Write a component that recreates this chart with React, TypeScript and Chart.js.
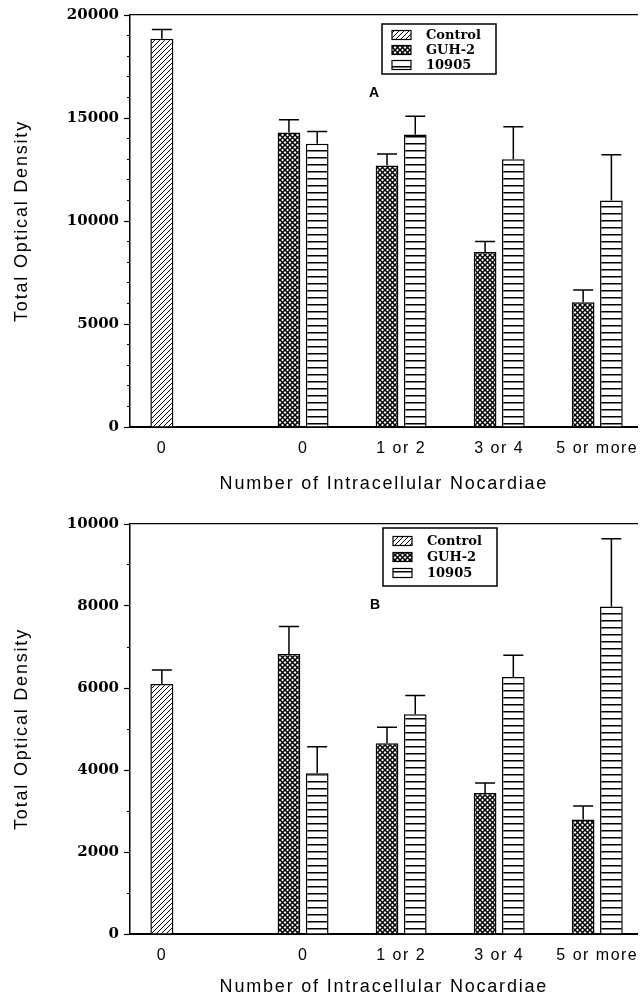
import React, { useEffect, useRef } from 'react';
import { Chart, registerables } from 'chart.js';

Chart.register(...registerables);

// ---------- data ----------
const categories = ['0', '0', '1 or 2', '3 or 4', '5 or more'];
const categoryPositions = [0, 1.44, 2.44, 3.44, 4.44];
const seriesNames = ['Control', 'GUH-2', '10905'];
const xTitle = 'Number of Intracellular Nocardiae';
const yTitle = 'Total Optical Density';

// Panel A
const aControl = [18850, null, null, null, null];
const aControlErr = [450, null, null, null, null];
const aGuh2 = [null, 14300, 12700, 8500, 6050];
const aGuh2Err = [null, 620, 550, 500, 600];
const a10905 = [null, 13750, 14200, 13000, 11000];
const a10905Err = [null, 600, 880, 1570, 2220];
const aMajorTicks = [0, 5000, 10000, 15000, 20000];
const aMinorStep = 1000;

// Panel B
const bControl = [6100, null, null, null, null];
const bControlErr = [340, null, null, null, null];
const bGuh2 = [null, 6830, 4650, 3440, 2790];
const bGuh2Err = [null, 670, 390, 240, 330];
const b10905 = [null, 3920, 5360, 6270, 7990];
const b10905Err = [null, 650, 460, 530, 1650];
const bMajorTicks = [0, 2000, 4000, 6000, 8000, 10000];
const bMinorStep = 1000;

// ---------- styling helpers ----------
const SANS = "'Liberation Sans', Arial, sans-serif";
const SERIF = "'DejaVu Serif', serif";

function makePattern(ctx: CanvasRenderingContext2D, kind: string): CanvasPattern {
  const c = document.createElement('canvas');
  const g = c.getContext('2d') as CanvasRenderingContext2D;
  if (kind === 'diag') {
    const s = 5;
    c.width = s; c.height = s;
    g.fillStyle = '#fff'; g.fillRect(0, 0, s, s);
    g.strokeStyle = '#000'; g.lineWidth = 1;
    for (const k of [-s, 0, s]) {
      g.beginPath(); g.moveTo(k, s); g.lineTo(k + s, 0); g.stroke();
    }
  } else if (kind === 'cross') {
    const s = 5;
    c.width = s; c.height = s;
    g.fillStyle = '#fff'; g.fillRect(0, 0, s, s);
    g.strokeStyle = '#000'; g.lineWidth = 1.5;
    for (const k of [-s, 0, s]) {
      g.beginPath(); g.moveTo(k, 0); g.lineTo(k + s, s); g.stroke();
      g.beginPath(); g.moveTo(k, s); g.lineTo(k + s, 0); g.stroke();
    }
  } else {
    c.width = 4; c.height = 7;
    g.fillStyle = '#fff'; g.fillRect(0, 0, 4, 7);
    g.fillStyle = '#000'; g.fillRect(0, 3, 4, 1.5);
  }
  return ctx.createPattern(c, 'repeat') as CanvasPattern;
}

const spacingPlugin = {
  id: 'letterSpacing',
  beforeDraw(chart: any) {
    const wrap = (scale: any, name: string, sp: string) => {
      if (!scale || scale['__w_' + name]) return;
      const orig = scale[name];
      scale[name] = function (...args: any[]) {
        const c = this.ctx;
        c.save();
        c.letterSpacing = sp;
        const r = orig.apply(this, args);
        c.restore();
        return r;
      };
      scale['__w_' + name] = true;
    };
    wrap(chart.scales.x, 'drawLabels', '1.5px');
    wrap(chart.scales.x, 'drawTitle', '1.8px');
    wrap(chart.scales.y, 'drawTitle', '1.8px');
  },
};

const errorBarPlugin = {
  id: 'errorBars',
  afterDatasetsDraw(chart: any) {
    const c = chart.ctx;
    const yScale = chart.scales.y;
    c.save();
    c.strokeStyle = '#000';
    c.lineWidth = 1.5;
    chart.data.datasets.forEach((ds: any, i: number) => {
      const meta = chart.getDatasetMeta(i);
      ds.data.forEach((pt: any, j: number) => {
        const err = ds.errors[j];
        if (pt.y == null || err == null) return;
        const bar = meta.data[j];
        const x = bar.x;
        const yTop = yScale.getPixelForValue(pt.y);
        const yErr = yScale.getPixelForValue(pt.y + err);
        c.beginPath();
        c.moveTo(x, yTop);
        c.lineTo(x, yErr);
        c.moveTo(x - 10, yErr);
        c.lineTo(x + 10, yErr);
        c.stroke();
      });
    });
    c.restore();
  },
};

type PanelProps = {
  letter: string;
  values: (number | null)[][];
  errors: (number | null)[][];
  majorTicks: number[];
  minorStep: number;
  height: number;
  padTop: number;
  xAxisHeight: number;
  titlePadBottom: number;
  legend: { x: number; y: number; w: number; h: number; row0: number; gap: number };
  letterPos: { x: number; y: number };
};

function Panel(p: PanelProps) {
  const ref = useRef<HTMLCanvasElement>(null);
  useEffect(() => {
    const canvas = ref.current as HTMLCanvasElement;
    const ctx = canvas.getContext('2d') as CanvasRenderingContext2D;
    const patterns = [makePattern(ctx, 'diag'), makePattern(ctx, 'cross'), makePattern(ctx, 'horiz')];
    const datasets = seriesNames.map((name, i) => ({
      label: name,
      data: p.values[i].map((v, k) => ({ x: categoryPositions[k], y: v })),
      errors: p.errors[i],
      backgroundColor: patterns[i],
      borderColor: '#000',
      borderWidth: 1.5,
      categoryPercentage: 0.576,
      barPercentage: 0.804,
      maxBarThickness: 23,
      skipNull: true,
    }));
    const yMax = p.majorTicks[p.majorTicks.length - 1];
    const xMin = -0.325;
    const xMax = 4.853;

    const legendPlugin = {
      id: 'boxLegend',
      afterDraw(chart: any) {
        const c = chart.ctx;
        const L = p.legend;
        c.save();
        c.strokeStyle = '#000';
        c.lineWidth = 1.5;
        c.strokeRect(L.x, L.y, L.w, L.h);
        c.font = `bold 13px ${SERIF}`;
        c.textBaseline = 'middle';
        c.textAlign = 'left';
        chart.data.datasets.forEach((ds: any, i: number) => {
          const ry = L.y + L.row0 + i * L.gap;
          c.fillStyle = ds.backgroundColor;
          c.fillRect(L.x + 10, ry - 4.5, 19, 9);
          c.lineWidth = 1.2;
          c.strokeRect(L.x + 10, ry - 4.5, 19, 9);
          c.fillStyle = '#000';
          c.fillText(ds.label, L.x + 44, ry + 0.5);
        });
        c.font = `bold 14px ${SANS}`;
        c.textAlign = 'center';
        c.fillStyle = '#000';
        c.fillText(p.letter, p.letterPos.x, p.letterPos.y);
        c.restore();
      },
    };

    const chart = new Chart(ctx, {
      type: 'bar',
      data: { datasets: datasets as any },
      options: {
        responsive: false,
        animation: false,
        devicePixelRatio: 1,
        layout: { padding: { top: p.padTop, left: 0, right: 0, bottom: 0 } },
        plugins: { legend: { display: false }, tooltip: { enabled: false } },
        scales: {
          x: {
            type: 'linear',
            position: 'bottom',
            offset: false,
            min: xMin,
            max: xMax,
            afterBuildTicks: (s: any) => {
              s.ticks = categoryPositions.map((v) => ({ value: v }));
            },
            afterFit: (s: any) => {
              s.height = p.xAxisHeight;
            },
            ticks: {
              autoSkip: false,
              maxRotation: 0,
              minRotation: 0,
              padding: 12,
              color: '#000',
              font: { family: SANS, size: 16 },
              callback: (_v: any, i: number) => categories[i],
            },
            grid: { display: false, drawTicks: false, offset: false },
            border: { display: true, color: '#000', width: 2 },
            title: {
              display: true,
              text: xTitle,
              color: '#000',
              font: { family: SANS, size: 18 },
              padding: { top: 0, bottom: p.titlePadBottom },
            },
          },
          xTop: {
            type: 'linear',
            position: 'top',
            offset: false,
            min: xMin,
            max: xMax,
            afterFit: (s: any) => {
              s.height = 0;
            },
            ticks: { display: false },
            grid: { display: false, drawTicks: false },
            border: { display: true, color: '#000', width: 1.2 },
          },
          y: {
            type: 'linear',
            position: 'left',
            min: 0,
            max: yMax,
            afterFit: (s: any) => {
              s.width = 130;
            },
            ticks: {
              stepSize: p.minorStep,
              autoSkip: false,
              padding: 5,
              color: '#000',
              font: { family: SERIF, size: 15, weight: 'bold' },
              callback: (v: any) => (p.majorTicks.includes(Number(v)) ? String(v) : ''),
            },
            grid: {
              display: true,
              drawOnChartArea: false,
              drawTicks: true,
              tickLength: 6,
              color: '#000',
              tickColor: '#000',
              tickWidth: 1.2,
              tickBorderDash: (c: any) =>
                c.tick && p.majorTicks.includes(c.tick.value) ? [] : [0, 3, 10, 0],
            },
            border: { display: true, color: '#000', width: 1.5 },
            title: {
              display: true,
              text: yTitle,
              color: '#000',
              font: { family: SANS, size: 18 },
              padding: { top: 11, bottom: 0 },
            },
          },
        },
      } as any,
      plugins: [spacingPlugin, errorBarPlugin, legendPlugin] as any,
    });
    return () => chart.destroy();
  }, []);
  return <canvas ref={ref} width={644} height={p.height} style={{ display: 'block' }} />;
}

export default function App() {
  return (
    <div
      style={{
        position: 'absolute',
        left: 0,
        top: 0,
        width: 644,
        height: 1001,
        background: '#fff',
        overflow: 'hidden',
      }}
    >
      <Panel
        letter="A"
        values={[aControl, aGuh2, a10905]}
        errors={[aControlErr, aGuh2Err, a10905Err]}
        majorTicks={aMajorTicks}
        minorStep={aMinorStep}
        height={505}
        padTop={15}
        xAxisHeight={78}
        titlePadBottom={10}
        legend={{ x: 382, y: 24, w: 114, h: 50, row0: 11, gap: 15 }}
        letterPos={{ x: 374, y: 93 }}
      />
      <Panel
        letter="B"
        values={[bControl, bGuh2, b10905]}
        errors={[bControlErr, bGuh2Err, b10905Err]}
        majorTicks={bMajorTicks}
        minorStep={bMinorStep}
        height={496}
        padTop={19}
        xAxisHeight={67}
        titlePadBottom={3}
        legend={{ x: 383, y: 23, w: 114, h: 58, row0: 13, gap: 16 }}
        letterPos={{ x: 375, y: 100 }}
      />
    </div>
  );
}
